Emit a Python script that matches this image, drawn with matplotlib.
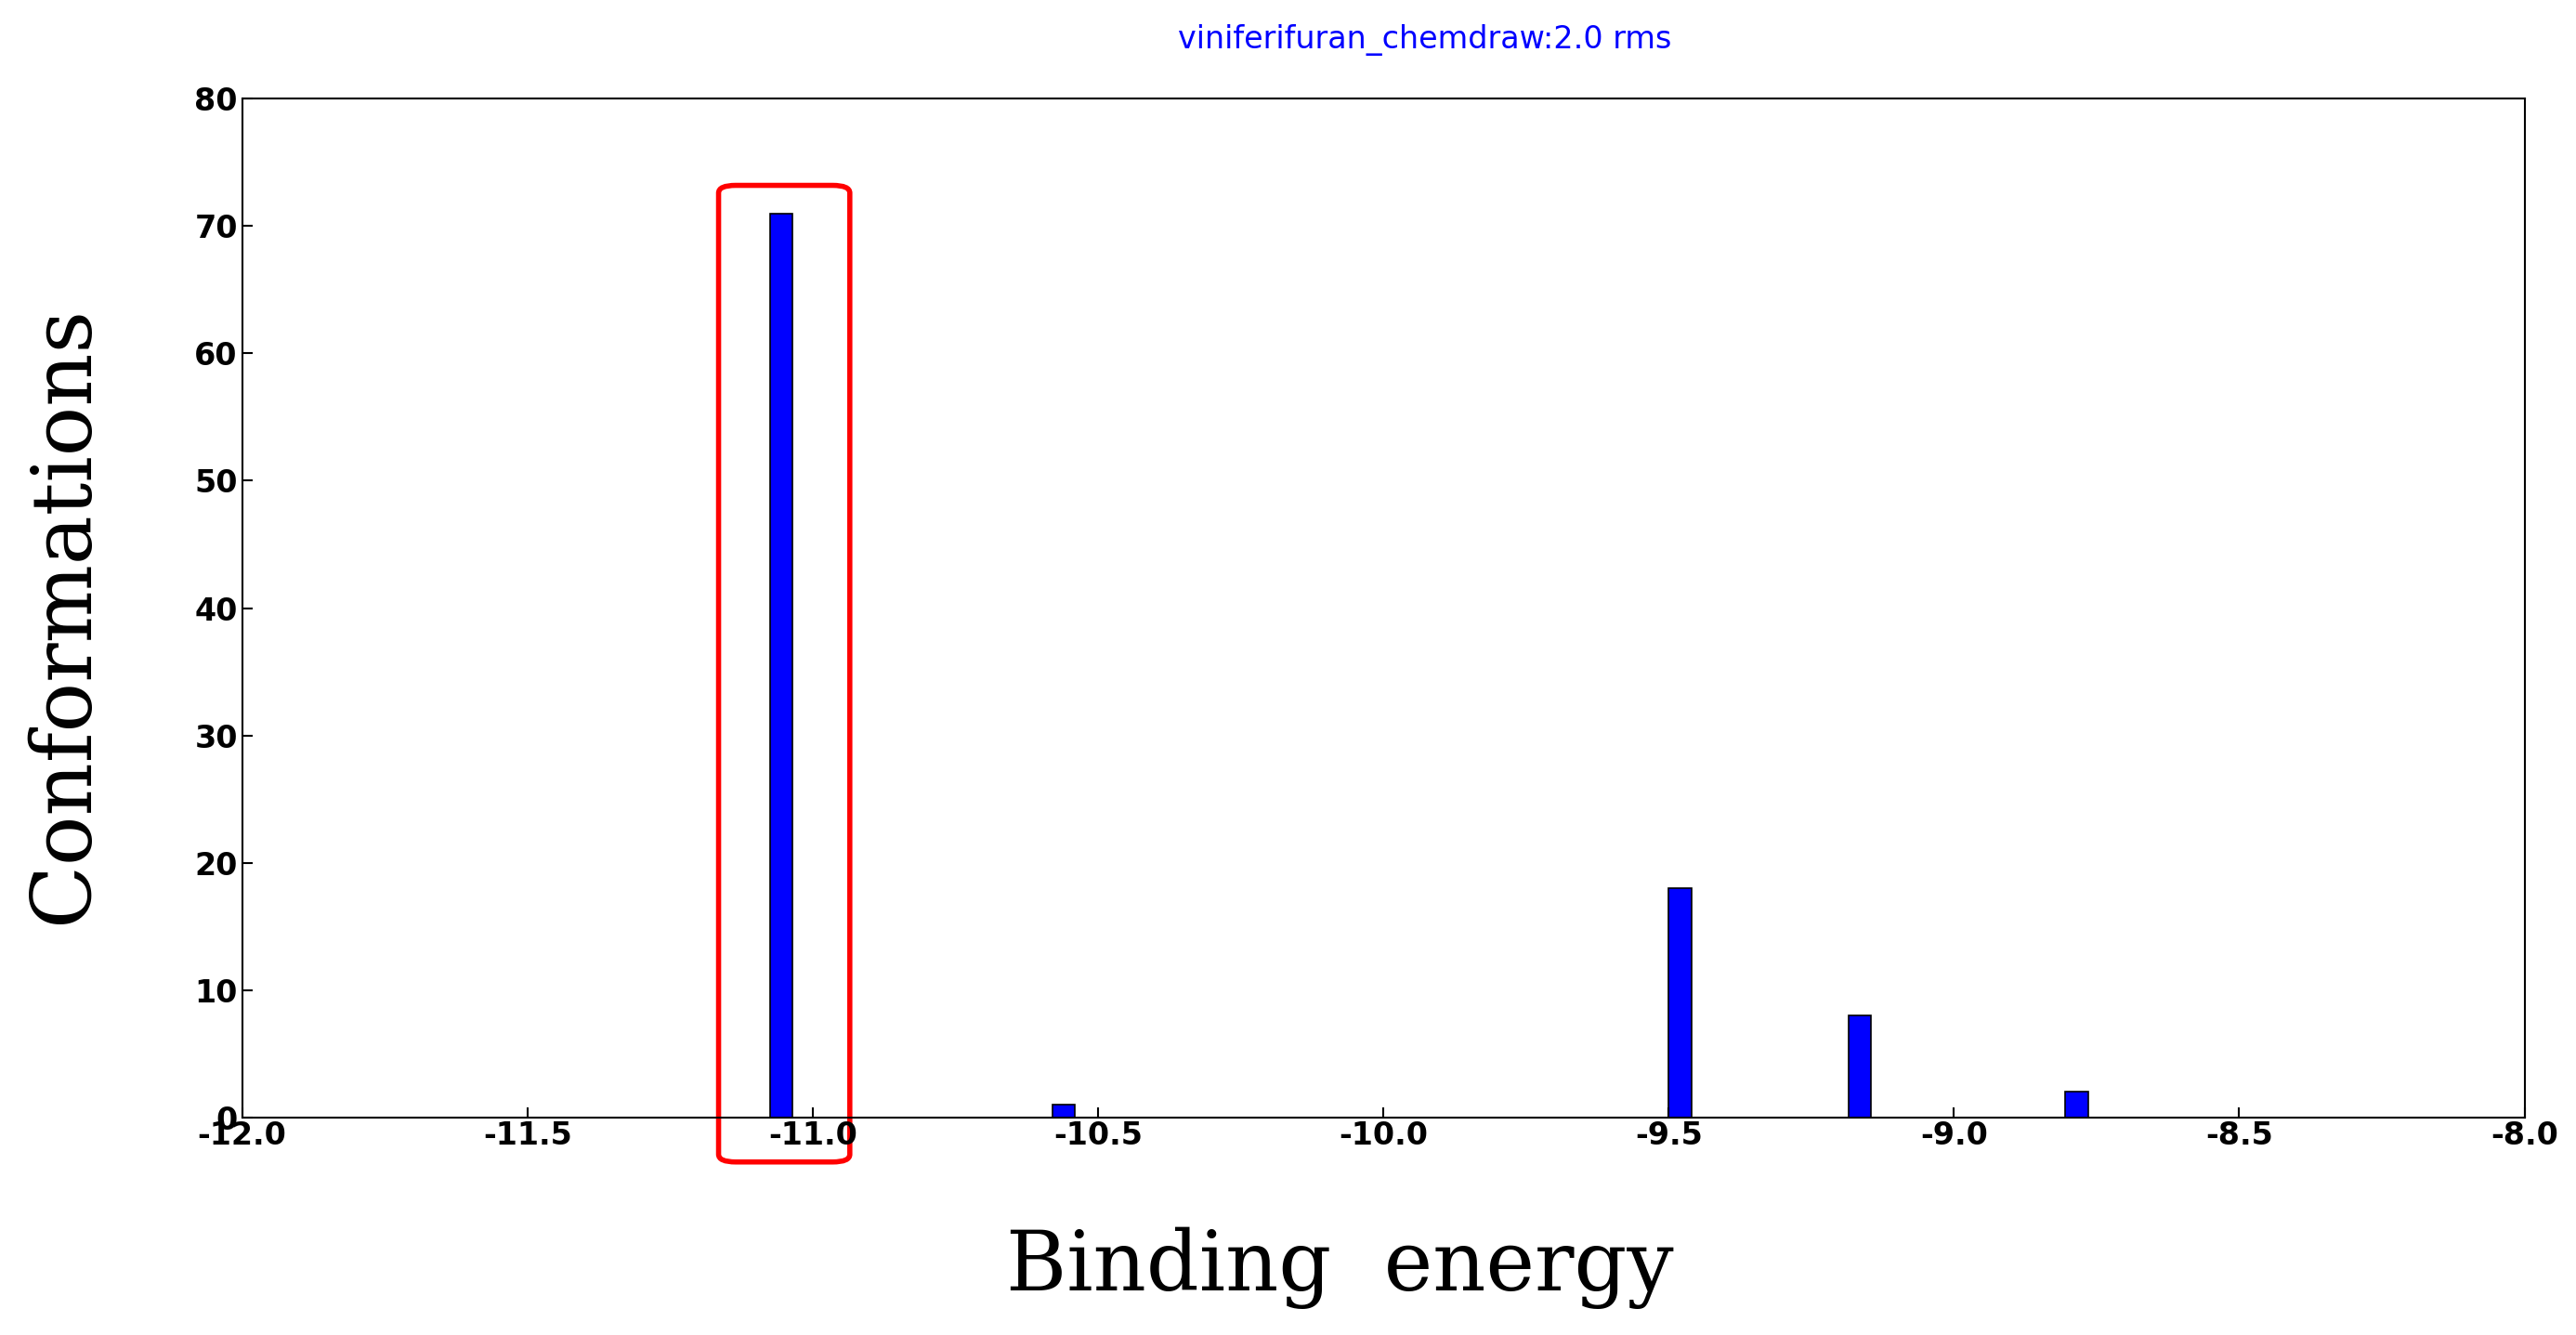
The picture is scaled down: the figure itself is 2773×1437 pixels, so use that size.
import matplotlib
matplotlib.use("Agg")
import matplotlib.pyplot as plt
from matplotlib.patches import FancyBboxPatch

energies = [-11.055, -10.56, -9.48, -9.165, -8.785]
counts = [71, 1, 18, 8, 2]
xticks = [-12.0, -11.5, -11.0, -10.5, -10.0, -9.5, -9.0, -8.5, -8.0]
yticks = [0, 10, 20, 30, 40, 50, 60, 70, 80]

fig = plt.figure(figsize=(27.73, 14.37), dpi=100)
ax = fig.add_axes([0.094, 0.163, 0.886, 0.763])
ax.bar(energies, counts, width=0.04, color="#0000ff", edgecolor="black", linewidth=1.2)
ax.set_xlim(-12, -8)
ax.set_ylim(0, 80)
ax.set_xticks(xticks)
ax.set_xticklabels([f"{t:.1f}" for t in xticks])
ax.set_yticks(yticks)
ax.tick_params(labelsize=24, direction="in", length=8, width=1.5)
ax.tick_params(axis="x", pad=2)
for lab in ax.get_xticklabels() + ax.get_yticklabels():
    lab.set_fontweight("bold")
for s in ax.spines.values():
    s.set_linewidth(1.5)

box = FancyBboxPatch((-11.165, -3.5), 0.23, 76.7, boxstyle="round,pad=0,rounding_size=0.03",
                     mutation_aspect=20, fill=False, edgecolor="red", linewidth=4, clip_on=False)
ax.add_patch(box)

fig.text(0.553, 0.97, "viniferifuran_chemdraw:2.0 rms", color="#0000ff", fontsize=24, ha="center", va="center")
fig.text(0.52, 0.05, "Binding  energy", fontsize=64, family="DejaVu Serif", ha="center", va="center")
fig.text(0.025, 0.54, "Conformations", fontsize=64, family="DejaVu Serif", ha="center", va="center", rotation=90)
fig.savefig("out.png", dpi=100)
